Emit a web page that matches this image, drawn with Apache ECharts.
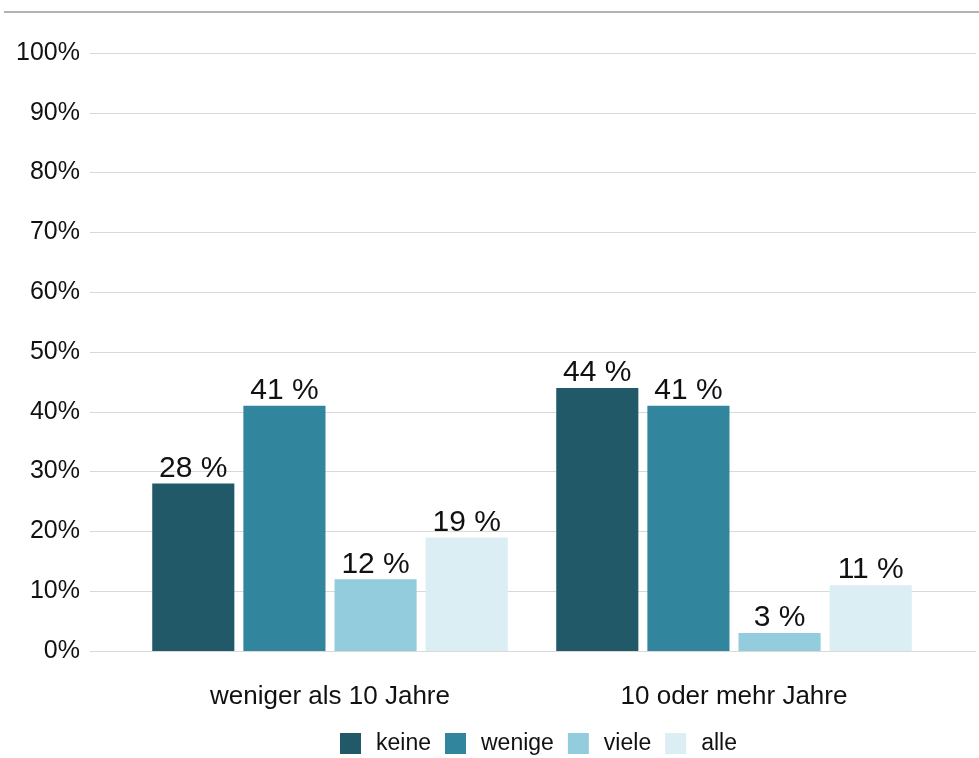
<!DOCTYPE html>
<html>
<head>
<meta charset="utf-8">
<script src="https://cdn.jsdelivr.net/npm/echarts@6/dist/echarts.min.js"></script>
<style>
html,body{margin:0;padding:0;background:#fff;}
#chart{width:979px;height:758px;}
</style>
</head>
<body>
<div id="chart"></div>
<script>
// Daten
var kategorien = ['weniger als 10 Jahre', '10 oder mehr Jahre'];
var keine = [28, 44];
var wenige = [41, 41];
var viele = [12, 3];
var alle = [19, 11];
var serienNamen = ['keine', 'wenige', 'viele', 'alle'];
var farben = ['#215968', '#31859c', '#93cddd', '#dbeef4'];

var schrift = '"Liberation Sans", Arial, Helvetica, sans-serif';

function balken(name, werte, farbe){
	return {
		name: name,
		type: 'bar',
		xAxisIndex: 1,
		yAxisIndex: 1,
		barGap: '11%',
		barCategoryGap: '12%',
		itemStyle: { color: farbe },
		label: {
			show: true,
			position: 'top',
			distance: 0,
			formatter: '{c} %',
			color: '#111',
			fontSize: 30,
			fontFamily: schrift
		},
		data: werte
	};
}

var chart = echarts.init(document.getElementById('chart'));
var option = {
	animation: false,
	textStyle: { fontFamily: schrift },
	graphic: [
		{
			type: 'line',
			shape: { x1: 4, y1: 12, x2: 979, y2: 12 },
			style: { stroke: '#b3b3b3', lineWidth: 2 }
		}
	],
	legend: {
		data: serienNamen,
		left: 340,
		top: 732,
		padding: 0,
		icon: 'rect',
		itemWidth: 21,
		itemHeight: 21,
		itemGap: 14,
		textStyle: { fontSize: 23, color: '#111', fontFamily: schrift, padding: [0, 0, 0, 10] }
	},
	grid: [
		{ left: 90, right: 3, top: 53, bottom: 107 },
		{ left: 128, right: 43, top: 53, bottom: 107 }
	],
	xAxis: [
		{ gridIndex: 0, type: 'value', min: 0, max: 1, show: false },
		{
			gridIndex: 1,
			type: 'category',
			data: kategorien,
			axisLine: { show: false },
			axisTick: { show: false },
			axisLabel: { fontSize: 26, color: '#111', margin: 33, fontFamily: schrift }
		}
	],
	yAxis: [
		{
			gridIndex: 0,
			type: 'value',
			min: 0,
			max: 100,
			interval: 10,
			axisLine: { show: false },
			axisTick: { show: false },
			axisLabel: { formatter: '{value}%', fontSize: 25, color: '#111', margin: 10, fontFamily: schrift },
			splitLine: { lineStyle: { color: '#d9d9d9', width: 1 } }
		},
		{
			gridIndex: 1,
			type: 'value',
			min: 0,
			max: 100,
			interval: 10,
			show: false,
			splitLine: { show: false }
		}
	],
	series: [
		balken('keine', keine, farben[0]),
		balken('wenige', wenige, farben[1]),
		balken('viele', viele, farben[2]),
		balken('alle', alle, farben[3])
	]
};
chart.setOption(option);
</script>
</body>
</html>
